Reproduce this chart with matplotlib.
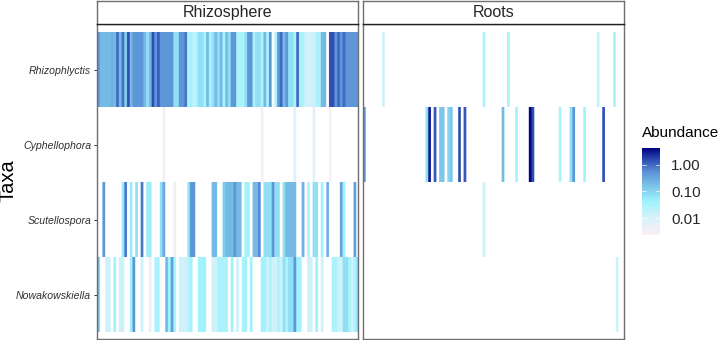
import numpy as np
import matplotlib
matplotlib.use("Agg")
import matplotlib.pyplot as plt
from matplotlib.colors import LinearSegmentedColormap, LogNorm

plt.rcParams["font.family"] = ["Liberation Sans", "DejaVu Sans"]

W, H = 720, 340
_ = np.nan

taxa = ["Rhizophlyctis", "Cyphellophora", "Scutellospora", "Nowakowskiella"]
facets = ["Rhizosphere", "Roots"]
bar_ticks = [0.01, 0.1, 1.0]
bar_labels = ["0.01", "0.10", "1.00"]

# Rhizosphere, one value per sample (96)
rh_rhizophlyctis = [
    .5, .2, .2, .2, .2, .25, .2, 1, .2, .9, .12, 1.5, .2, .5, .5, .5,
    .5, .2, .07, .2, 1.5, .5, 1.2, .5, .5, .5, .5, .5, .07, .07, .5, .5,
    .8, .03, .04, .015, .03, .07, .07, .03, .2, .03, .07, .2, .07, .2, .03, .2,
    .07, .5, .5, .03, .03, .03, .07, .5, .5, .03, .07, .07, .03, .2, .03, .5,
    _, .03, .5, 1, .2, .5, .07, .07, .03, 1, .03, .03, .012, .012, .012, .012,
    .03, .03, .2, .2, _, 1.5, 1.5, .5, 1, .5, 1, .5, .5, .5, .5, .5,
]
rh_cyphellophora = [_] * 96
for i, v in [(24, .003), (60, .003), (72, .006), (79, .006), (85, .0025)]:
    rh_cyphellophora[i] = v
rh_scutellospora = [
    _, _, .5, _, _, _, _, _, _, .05, .8, _, .05, _, .07, _,
    .8, _, .05, .05, _, _, _, .07, .3, _, _, _, .004, _, _, _,
    _, .05, .5, .5, _, _, _, _, _, _, .2, .2, _, _, .12, .2,
    .2, .2, .5, .2, .2, _, .04, .04, _, .2, .2, .6, _, .07, .07, .07,
    .5, .07, .07, _, .07, .2, .2, .2, .2, _, _, .25, _, .03, _, .07,
    .07, _, .04, _, .25, _, _, _, _, .35, .04, _, _, _, .4, _,
]
rh_nowakowskiella = [
    .2, _, _, .012, .012, _, .04, _, .012, .012, _, _, .04, .5, _, _,
    .012, _, _, .004, _, .03, .03, _, _, .2, .04, .4, .03, _, .012, .012,
    .012, .02, .04, _, _, .04, .04, .04, _, _, .012, .012, .03, .03, .03, .03,
    _, .04, _, .012, _, .03, .04, _, .04, _, _, _, .04, .04, .012, .03,
    .012, .012, .03, .012, .07, .03, .07, .07, .5, .04, .04, _, _, .012, .012, _,
    .04, _, .012, _, _, _, .03, .03, .012, .012, .07, .07, .03, .012, .03, .07,
]

# Roots, mostly empty: sample index and value
ro_rhizophlyctis_idx = [7, 44, 53, 86, 92]
ro_rhizophlyctis_val = [.012, .03, .03, .015, .03]
ro_cyphellophora_idx = [0, 23, 24, 26, 28, 29, 31, 32, 35, 37, 51, 56, 61, 62, 72, 76, 77, 81, 88]
ro_cyphellophora_val = [.5, .07, 3, 1.3, .15, .15, .1, .15, 1.5, 1.3, .2, .04, 4, 1.5, .03, .07, .5, .04, 1.5]
ro_scutellospora_idx = [44]
ro_scutellospora_val = [.012]
ro_nowakowskiella_idx = [93]
ro_nowakowskiella_val = [.012]


def sparse(idx, val):
    row = [_] * 96
    for i, v in zip(idx, val):
        row[i] = v
    return row


rhizo = np.array([rh_rhizophlyctis, rh_cyphellophora, rh_scutellospora, rh_nowakowskiella])
roots = np.array([
    sparse(ro_rhizophlyctis_idx, ro_rhizophlyctis_val),
    sparse(ro_cyphellophora_idx, ro_cyphellophora_val),
    sparse(ro_scutellospora_idx, ro_scutellospora_val),
    sparse(ro_nowakowskiella_idx, ro_nowakowskiella_val),
])

vmin, vmax = 0.0023, 4.3
norm = LogNorm(vmin, vmax)
cmap = LinearSegmentedColormap.from_list("abund", [
    (0.0, "#fbeff5"),
    (float(norm(0.01)), "#d6f1f9"),
    (float(norm(0.04)), "#a2f3fd"),
    (float(norm(0.15)), "#7cc6ea"),
    (float(norm(0.5)), "#5e97d8"),
    (float(norm(1.5)), "#3050b5"),
    (1.0, "#000080"),
]).with_extremes(bad="white")


def box(x0, y0, x1, y1):
    # pixel box (y down) -> figure axes
    return [x0 / W, 1 - y1 / H, (x1 - x0) / W, (y1 - y0) / H]


fig = plt.figure(figsize=(W / 100, H / 100), dpi=100)
panels = [(96.7, 358), (363.3, 624)]
edge = "#6e6e6e"

for n, (x0, x1) in enumerate(panels):
    ax = fig.add_axes(box(x0, 24, x1, 339))
    data = rhizo if n == 0 else roots
    # repeated cells so the bilinear smoothing only softens the edges of the tiles
    fine = np.repeat(np.repeat(data, 75, axis=0), 3, axis=1)
    img = ax.imshow(fine, cmap=cmap, norm=norm, aspect="auto", extent=(0, 96, 4.5, 0.5),
                    interpolation="bilinear", interpolation_stage="rgba")
    ax.set_xlim(0, 96)
    ax.set_ylim(4.59, 0.39)
    ax.set_xticks([])
    for s in ax.spines.values():
        s.set_color(edge)
        s.set_linewidth(1.0)
    if n == 0:
        ax.set_yticks([1, 2, 3, 4])
        ax.set_yticklabels(taxa, style="italic", fontsize=7.6, color="#303030")
        ax.tick_params(axis="y", length=2.5, width=0.7, color="#333333", pad=1.5)
    else:
        ax.set_yticks([])

    st = fig.add_axes(box(x0, 0.5, x1, 24))
    st.set_xticks([])
    st.set_yticks([])
    for s in st.spines.values():
        s.set_color(edge)
        s.set_linewidth(1.0)
    st.spines["bottom"].set_color("#222222")
    st.text(0.5, 0.47, facets[n], transform=st.transAxes, ha="center", va="center",
            fontsize=11.5, color="#262626")

fig.text(8 / W, 1 - 181 / H, "Taxa", rotation=90, ha="center", va="center", fontsize=14.5)

cax = fig.add_axes(box(642, 148, 660, 235))
cb = fig.colorbar(img, cax=cax)
cb.outline.set_visible(False)
cb.set_ticks(bar_ticks)
cb.set_ticklabels(bar_labels)
cb.ax.minorticks_off()
cax.tick_params(axis="y", length=0, pad=8, labelsize=11, labelcolor="#262626")
for t in bar_ticks:
    cax.plot([0, 0.2], [t, t], color="white", lw=0.5, transform=cax.get_yaxis_transform())
    cax.plot([0.8, 1], [t, t], color="white", lw=0.5, transform=cax.get_yaxis_transform())
fig.text(641.5 / W, 1 - 133 / H, "Abundance", ha="left", va="center", fontsize=11)

fig.savefig("out.png", dpi=100)
